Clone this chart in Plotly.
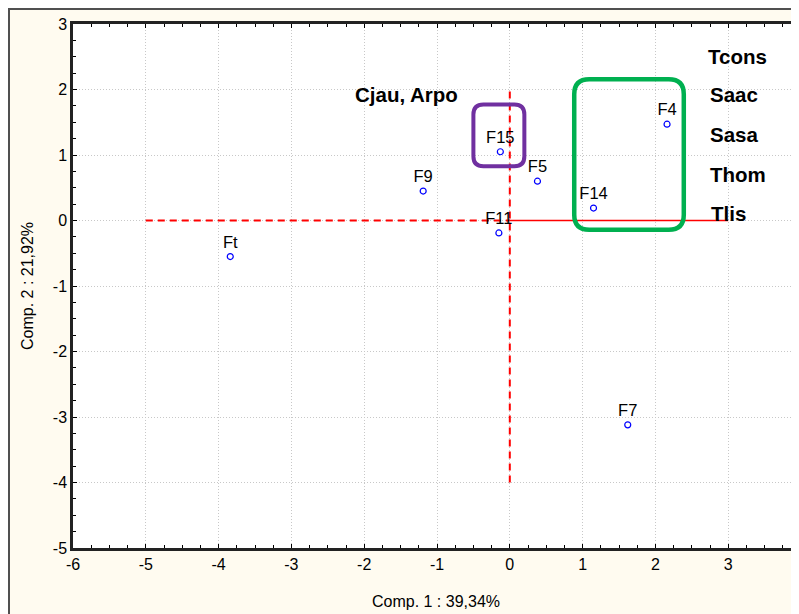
import plotly.graph_objects as go

# ---- data ----
point_names = ["Ft", "F9", "F15", "F11", "F5", "F14", "F4", "F7"]
comp1 = [-3.84, -1.19, -0.13, -0.15, 0.38, 1.15, 2.16, 1.62]
comp2 = [-0.55, 0.45, 1.05, -0.19, 0.60, 0.19, 1.47, -3.12]

group_labels = ["Cjau, Arpo", "Tcons", "Saac", "Sasa", "Thom", "Tlis"]
group_x = [-1.42, 2.69, 2.72, 2.72, 2.72, 2.74]
group_y = [1.92, 2.50, 1.93, 1.31, 0.71, 0.10]
group_anchor = ["center", "left", "left", "left", "left", "left"]

# reference axes lines
hdash_x = [-5, 0]
hdash_y = [0, 0]
hsolid_x = [0, 3]
hsolid_y = [0, 0]
vdash_x = [0, 0]
vdash_y = [-4, 2]

# highlight boxes: x0, x1, y0, y1 (data units)
purple_box = [-0.50, 0.20, 0.83, 1.77]
green_box = [0.885, 2.39, -0.14, 2.155]

xticks = [-6, -5, -4, -3, -2, -1, 0, 1, 2, 3, 4]
xtick_text = ["-6", "-5", "-4", "-3", "-2", "-1", "0", "1", "2", "3", "4"]
yticks = [-5, -4, -3, -2, -1, 0, 1, 2, 3]
ytick_text = ["-5", "-4", "-3", "-2", "-1", "0", "1", "2", "3"]

# page body has an 8px margin, so the figure starts at (8, 8)
W, H = 791, 606
ML, MR, MT, MB = 65, 0, 16, 66
PX_PER_X = 72.8
PX_PER_Y = (H - MT - MB) / 8
x_range = [-6, -6 + (W - ML - MR) / PX_PER_X]
y_range = [-5, 3]


def rounded_path(box, r):
    x0, x1, y0, y1 = box
    rx = r / PX_PER_X
    ry = r / PX_PER_Y
    return (f"M {x0+rx},{y1} L {x1-rx},{y1} Q {x1},{y1} {x1},{y1-ry} "
            f"L {x1},{y0+ry} Q {x1},{y0} {x1-rx},{y0} "
            f"L {x0+rx},{y0} Q {x0},{y0} {x0},{y0+ry} "
            f"L {x0},{y1-ry} Q {x0},{y1} {x0+rx},{y1} Z")


FONT = "Liberation Sans, Arial"
fig = go.Figure()

red = "#ff0000"
fig.add_trace(go.Scatter(x=hdash_x, y=hdash_y, mode="lines",
                         line=dict(color=red, width=2, dash="7px,5px"),
                         hoverinfo="skip", showlegend=False))
fig.add_trace(go.Scatter(x=hsolid_x, y=hsolid_y, mode="lines",
                         line=dict(color=red, width=1.5),
                         hoverinfo="skip", showlegend=False))
fig.add_trace(go.Scatter(x=vdash_x, y=vdash_y, mode="lines",
                         line=dict(color=red, width=2, dash="7px,5px"),
                         hoverinfo="skip", showlegend=False))

fig.add_trace(go.Scatter(
    x=comp1, y=comp2, mode="markers+text", text=point_names,
    textposition="top center",
    textfont=dict(family=FONT, size=16.5, color="#000000"),
    marker=dict(symbol="circle-open", size=6, color="#0000ff",
                line=dict(width=1.2, color="#0000ff")),
    showlegend=False))

for lab, gx, gy, anc in zip(group_labels, group_x, group_y, group_anchor):
    fig.add_annotation(x=gx, y=gy, text=f"<b>{lab}</b>", showarrow=False,
                       xanchor=anc, yanchor="middle",
                       font=dict(family=FONT, size=20.5, color="#000000"))

PW = W - ML - MR
PH = H - MT - MB
shapes = [
    # cream outer frame
    dict(type="rect", xref="paper", yref="paper",
         x0=(1 - ML) / PW, x1=1.2,
         y0=-0.3, y1=1 + (MT - 1) / PH,
         fillcolor="#fffbf0", line=dict(color="#505050", width=2),
         layer="below"),
    # white plot area
    dict(type="rect", xref="paper", yref="paper", x0=0, x1=1, y0=0, y1=1,
         fillcolor="#ffffff", line=dict(width=0), layer="below"),
    dict(type="path", xref="x", yref="y", path=rounded_path(purple_box, 10),
         line=dict(color="#7030a0", width=4), fillcolor="rgba(0,0,0,0)"),
    dict(type="path", xref="x", yref="y", path=rounded_path(green_box, 15),
         line=dict(color="#00b050", width=4.5), fillcolor="rgba(0,0,0,0)"),
]

axis_common = dict(
    showline=True, linecolor="#222222", linewidth=2.5,
    ticks="inside", ticklen=4, tickcolor="#000000", tickwidth=1,
    showgrid=True, gridcolor="#c8c8c8", griddash="1px,2px", gridwidth=1,
    zeroline=False, automargin=False,
    tickfont=dict(family=FONT, size=16, color="#000000"),
)

fig.update_layout(
    width=W, height=H,
    margin=dict(l=ML, r=MR, t=MT, b=MB),
    paper_bgcolor="#ffffff", plot_bgcolor="#ffffff",
    shapes=shapes,
    font=dict(family=FONT, color="#000000"),
    xaxis=dict(range=x_range, tickvals=xticks, ticktext=xtick_text,
               mirror="allticks",
               minor=dict(dtick=0.25, ticks="inside", ticklen=3,
                          tickcolor="#000000", showgrid=False),
               title=dict(text="Comp. 1 : 39,34%", standoff=24,
                          font=dict(family=FONT, size=16)),
               **axis_common),
    yaxis=dict(range=y_range, tickvals=yticks, ticktext=ytick_text,
               minor=dict(dtick=0.25, ticks="inside", ticklen=3,
                          tickcolor="#000000", showgrid=False),
               title=dict(text="Comp. 2 : 21,92%", standoff=16,
                          font=dict(family=FONT, size=16)),
               **axis_common),
)

fig.write_html("out.html")
